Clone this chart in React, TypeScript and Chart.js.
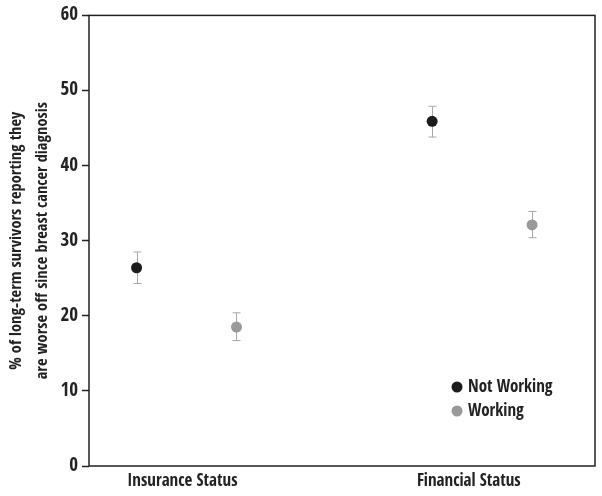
import React, { useEffect, useRef } from "react";
import { Chart, registerables } from "chart.js";

Chart.register(...registerables);

// ---- data ----
const categories = ["Insurance Status", "Financial Status"];
const groupPositions = [1, 2];
const labelPositions = [0.986, 1.955];
const seriesNames = ["Not Working", "Working"];
const seriesOffsets = [-0.169, 0.169];
const notWorking = [26.4, 45.9];
const notWorkingLow = [24.3, 43.8];
const notWorkingHigh = [28.5, 47.9];
const working = [18.5, 32.1];
const workingLow = [16.7, 30.4];
const workingHigh = [20.4, 33.9];
const yTicks = [0, 10, 20, 30, 40, 50, 60];
const yTitle = [
  "% of long-term survivors reporting they",
  "are worse off since breast cancer diagnosis",
];

const FONT = '"Open Sans Condensed", "Roboto Condensed", "DejaVu Sans Condensed", sans-serif';
const colors = ["#1c1c1c", "#999999"];

export default function App() {
  const ref = useRef<HTMLCanvasElement | null>(null);
  useEffect(() => {
    if (!ref.current) return;
    const values = [notWorking, working];
    const lows = [notWorkingLow, workingLow];
    const highs = [notWorkingHigh, workingHigh];
    const datasets = values.map((vals, si) => ({
      label: seriesNames[si],
      data: vals.map((v, ci) => ({
        x: groupPositions[ci] + seriesOffsets[si],
        y: v,
        lo: lows[si][ci],
        hi: highs[si][ci],
      })),
      backgroundColor: colors[si],
      borderColor: colors[si],
      borderWidth: 0,
      pointRadius: 5.5,
      pointHoverRadius: 5.5,
    }));

    const errorBars = {
      id: "errorBars",
      beforeDatasetsDraw(chart: any) {
        const ctx = chart.ctx;
        const ys = chart.scales.y;
        const xs = chart.scales.x;
        ctx.save();
        ctx.strokeStyle = "#a8a8a8";
        ctx.lineWidth = 1;
        chart.data.datasets.forEach((ds: any) => {
          ds.data.forEach((p: any) => {
            const x = Math.round(xs.getPixelForValue(p.x)) + 0.5;
            const yl = ys.getPixelForValue(p.lo);
            const yh = ys.getPixelForValue(p.hi);
            ctx.beginPath();
            ctx.moveTo(x, yl);
            ctx.lineTo(x, yh);
            ctx.moveTo(x - 4, yl);
            ctx.lineTo(x + 4, yl);
            ctx.moveTo(x - 4, yh);
            ctx.lineTo(x + 4, yh);
            ctx.stroke();
          });
        });
        ctx.restore();
      },
    };

    const frame = {
      id: "frame",
      afterDraw(chart: any) {
        const { ctx, chartArea: a } = chart;
        ctx.save();
        ctx.strokeStyle = "#222";
        ctx.lineWidth = 1.5;
        ctx.strokeRect(a.left, a.top, a.right - a.left, a.bottom - a.top);
        // legend
        ctx.font = `bold 17px ${FONT}`;
        ctx.textBaseline = "middle";
        ctx.textAlign = "left";
        seriesNames.forEach((name, i) => {
          const cx = a.right - 138;
          const cy = a.bottom - 79 + i * 24;
          ctx.fillStyle = colors[i];
          ctx.beginPath();
          ctx.arc(cx, cy, 5.5, 0, Math.PI * 2);
          ctx.fill();
          ctx.fillStyle = "#222";
          ctx.fillText(name, cx + 11, cy + 1);
        });
        ctx.restore();
      },
    };

    const chart = new Chart(ref.current, {
      type: "scatter",
      data: { datasets },
      plugins: [errorBars, frame],
      options: {
        animation: false,
        responsive: true,
        maintainAspectRatio: false,
        layout: { padding: { top: 13, right: 7, left: 0, bottom: 0 } },
        plugins: { legend: { display: false }, tooltip: { enabled: false } },
        scales: {
          x: {
            type: "linear",
            min: 0.67,
            max: 2.382,
            afterBuildTicks: (axis: any) => {
              axis.ticks = labelPositions.map((v) => ({ value: v }));
            },
            afterFit: (s: any) => {
              s.height = 30;
            },
            grid: { display: false, drawTicks: false },
            border: { display: false },
            ticks: {
              autoSkip: false,
              maxRotation: 0,
              padding: 5,
              color: "#222",
              font: { family: FONT, size: 17, weight: "bold" },
              callback: (_v: any, i: number) => categories[i],
            },
          },
          y: {
            min: 0,
            max: 60,
            afterBuildTicks: (axis: any) => {
              axis.ticks = yTicks.map((v) => ({ value: v }));
            },
            afterFit: (s: any) => {
              s.width = 89;
            },
            grid: {
              drawOnChartArea: false,
              tickLength: 7,
              tickColor: "#222",
              tickWidth: 1.5,
            },
            border: { display: false },
            ticks: {
              padding: 4,
              color: "#222",
              font: { family: FONT, size: 19, weight: "bold" },
            },
            title: {
              display: true,
              text: yTitle,
              color: "#222",
              padding: { top: 4, bottom: 0 },
              font: { family: FONT, size: 16.5, weight: "bold", lineHeight: 1.55 },
            },
          },
        },
      },
    });
    return () => chart.destroy();
  }, []);
  return (
    <div style={{ position: "fixed", left: 0, top: 0, width: 602, height: 496, background: "#fff" }}>
      <canvas ref={ref} />
    </div>
  );
}
